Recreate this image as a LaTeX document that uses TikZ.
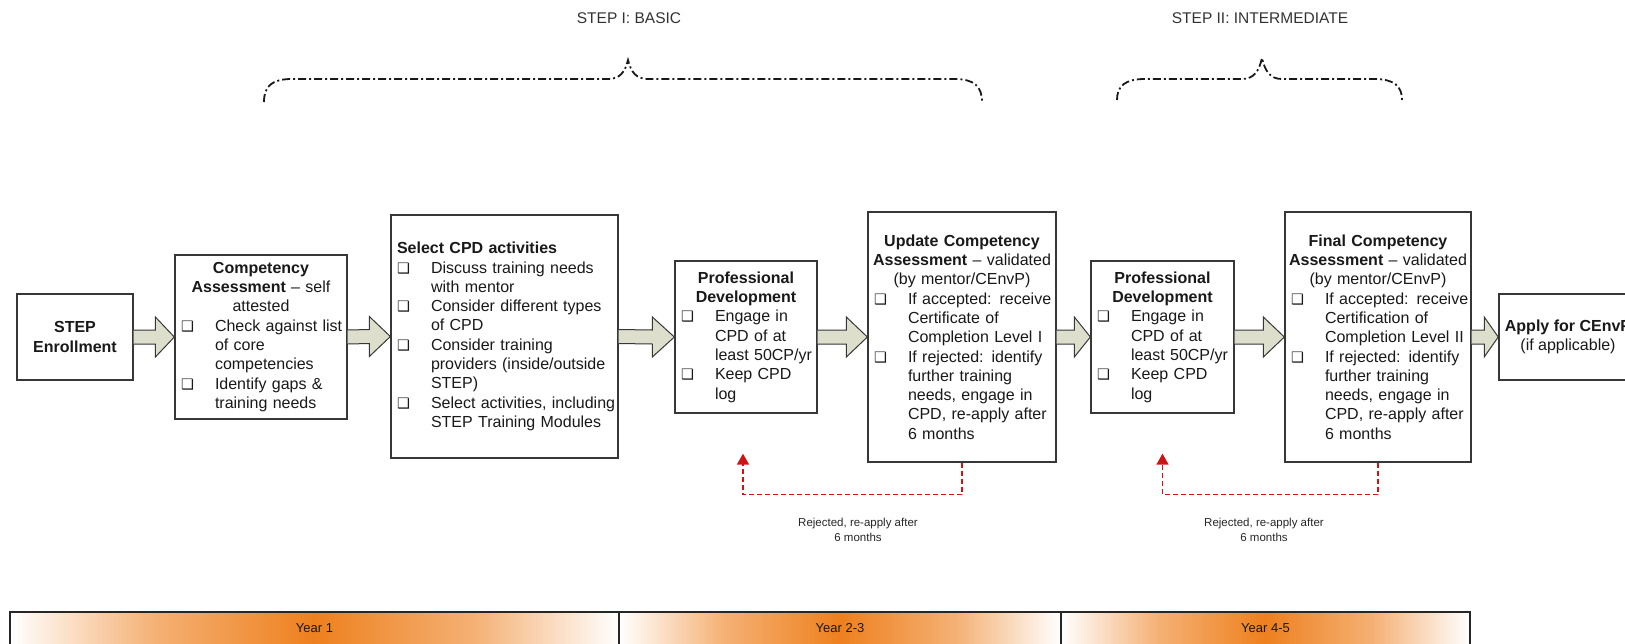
\documentclass[tikz,border=0pt]{standalone}
\usepackage{fontspec}
\setmainfont{Liberation Sans}
\newfontfamily\dingfont[Scale=0.9]{DejaVu Sans}
\usetikzlibrary{calc,arrows.meta}

\definecolor{boxline}{RGB}{55,55,55}
\definecolor{arrowfill}{RGB}{221,222,204}
\definecolor{rejred}{RGB}{204,20,20}
\definecolor{yearorange}{RGB}{238,128,30}
\definecolor{labelgray}{RGB}{50,50,50}

% white-orange-white band used for the year cells
\pgfdeclarehorizontalshading{yearshade}{100bp}{color(0bp)=(white); color(25bp)=(white); color(37bp)=(yearorange!62); color(50bp)=(yearorange); color(63bp)=(yearorange!62); color(75bp)=(white); color(100bp)=(white)}

% checkbox bullet and line helpers for the boxed lists
\newcommand\cb{{\dingfont ❑}}
\newcommand\hd[1]{\noindent\makebox[\hsize][c]{#1}\par}
\newcommand\hl[1]{\noindent\mbox{#1}\par}
\newcommand\itm[1]{\noindent\makebox[34pt][l]{\cb}\mbox{#1}\par}
\newcommand\cnt[1]{\noindent\hspace*{34pt}\mbox{#1}\par}

% block arrow from the east side of #1 to the west side of #2, head length #3
\newcommand\barrow[3]{%
  \draw[blockarrow] ($(#1.east)+(0,-7)$) -- ($(#2.west)+(-#3,-7)$)
    -- ($(#2.west)+(-#3,-20)$) -- (#2.west) -- ($(#2.west)+(-#3,20)$)
    -- ($(#2.west)+(-#3,7)$) -- ($(#1.east)+(0,7)$);}

\tikzset{
  box/.style={draw=boxline, line width=1.3pt, fill=white, inner xsep=6pt,
    inner ysep=0pt, font=\fontsize{16pt}{19.3pt}\selectfont, text=black!90},
  listbox/.style={box, text width=#1},
  smallbox/.style={box, align=center, minimum width=#1, minimum height=86pt},
  blockarrow/.style={draw=boxline, line width=1pt, fill=arrowfill, line join=miter},
  rej/.style={draw=rejred, line width=1.4pt, dash pattern=on 5pt off 3pt,
    -{Triangle[length=11pt,width=12pt]}},
  rejlabel/.style={font=\fontsize{11.5pt}{15pt}\selectfont, align=center, text=black!85},
  steplabel/.style={font=\fontsize{15.5pt}{18pt}\selectfont, text=labelgray},
  yearlabel/.style={font=\fontsize{13pt}{15pt}\selectfont, text=black!90},
  yearcell/.style={shading=yearshade},
  bracket/.style={draw=black!90, line width=1.8pt, dash pattern=on 8pt off 3pt on 2pt off 3pt}
}

\begin{document}
\begin{tikzpicture}[x=1pt,y=-1pt]
\useasboundingbox (0,0) rectangle (1625,643);
\clip (0,0) rectangle (1625,643);

% stage headings and braces
\node[steplabel] (s1) at (629,18) {STEP I: BASIC};
\node[steplabel] (s2) at (1260,18) {STEP II: INTERMEDIATE};
\draw[bracket] (264,102) .. controls (264,86) and (272,79) .. (292,79) -- (608,79)
  .. controls (620,79) and (625,72) .. (628,60)
  .. controls (631,72) and (636,79) .. (648,79) -- (954,79)
  .. controls (974,79) and (982,86) .. (982,102);
\draw[bracket] (1117,100) .. controls (1117,86) and (1125,79) .. (1145,79) -- (1242,79)
  .. controls (1254,79) and (1259,71) .. (1262,58)
  .. controls (1265,71) and (1270,79) .. (1282,79) -- (1374,79)
  .. controls (1394,79) and (1402,86) .. (1402,100);

% process boxes
\node[smallbox=116pt] (en) at (75,337) {\textbf{STEP}\\\textbf{Enrollment}};

\node[listbox=160pt, minimum height=164pt] (ca) at (261,337) {%
  \hd{\textbf{Competency}}
  \hd{\textbf{Assessment} – self}
  \hd{attested}
  \itm{Check against list}
  \cnt{of core}
  \cnt{competencies}
  \itm{Identify gaps \&}
  \cnt{training needs}};

\node[listbox=215pt, minimum height=243pt] (sel) at (504.5,336.5) {%
  \hl{\textbf{Select CPD activities}}
  \itm{Discuss training needs}
  \cnt{with mentor}
  \itm{Consider different types}
  \cnt{of CPD}
  \itm{Consider training}
  \cnt{providers (inside/outside}
  \cnt{STEP)}
  \itm{Select activities, including}
  \cnt{STEP Training Modules}};

\node[listbox=130pt, minimum height=152pt] (pd1) at (746,337) {%
  \hd{\textbf{Professional}}
  \hd{\textbf{Development}}
  \itm{Engage in}
  \cnt{CPD of at}
  \cnt{least 50CP/yr}
  \itm{Keep CPD}
  \cnt{log}};

\node[listbox=176pt, minimum height=250pt] (upd) at (962,337) {%
  \hd{\textbf{Update Competency}}
  \hd{\textbf{Assessment} – validated}
  \hd{(by mentor/CEnvP)}
  \itm{If accepted: receive}
  \cnt{Certificate of}
  \cnt{Completion Level I}
  \itm{If rejected: identify}
  \cnt{further training}
  \cnt{needs, engage in}
  \cnt{CPD, re-apply after}
  \cnt{6 months}};

\node[listbox=131pt, minimum height=152pt] (pd2) at (1162.5,337) {%
  \hd{\textbf{Professional}}
  \hd{\textbf{Development}}
  \itm{Engage in}
  \cnt{CPD of at}
  \cnt{least 50CP/yr}
  \itm{Keep CPD}
  \cnt{log}};

\node[listbox=174pt, minimum height=250pt] (fin) at (1378,337) {%
  \hd{\textbf{Final Competency}}
  \hd{\textbf{Assessment} – validated}
  \hd{(by mentor/CEnvP)}
  \itm{If accepted: receive}
  \cnt{Certification of}
  \cnt{Completion Level II}
  \itm{If rejected: identify}
  \cnt{further training}
  \cnt{needs, engage in}
  \cnt{CPD, re-apply after}
  \cnt{6 months}};

\node[smallbox=138pt] (app) at (1568,337) {\textbf{Apply for CEnvP}\\(if applicable)};

% flow arrows
\barrow{en}{ca}{19}
\barrow{ca}{sel}{21}
\barrow{sel}{pd1}{22}
\barrow{pd1}{upd}{21}
\barrow{upd}{pd2}{16}
\barrow{pd2}{fin}{21}
\barrow{fin}{app}{14}

% rejection loops
\coordinate (fb1) at ($(pd1.south)+(-3,40)$);
\coordinate (fb2) at ($(pd2.south)+(0,40)$);
\draw[rej] (upd.south) -- ++(0,32) -| (fb1);
\draw[rej] (fin.south) -- ++(0,32) -| (fb2);
\node[rejlabel] (r1) at (858,529.5) {Rejected, re-apply after\\6 months};
\node[rejlabel] (r2) at (1264,529.5) {Rejected, re-apply after\\6 months};

% timeline bar
\shade[yearcell] (10,612) rectangle (619,650);
\shade[yearcell] (619,612) rectangle (1061,650);
\shade[yearcell] (1061,612) rectangle (1470,650);
\draw[line width=1.2pt, black!85] (10,650) -- (10,612) (1470,612) -- (1470,650)
  (619,612) -- (619,650) (1061,612) -- (1061,650);
\draw[line width=2.6pt, black!85] (9,612) -- (1471,612);
\node[yearlabel] (y1) at (314.5,628) {Year 1};
\node[yearlabel] (y2) at (840,628) {Year 2-3};
\node[yearlabel] (y3) at (1265.5,628) {Year 4-5};
\end{tikzpicture}
\end{document}
